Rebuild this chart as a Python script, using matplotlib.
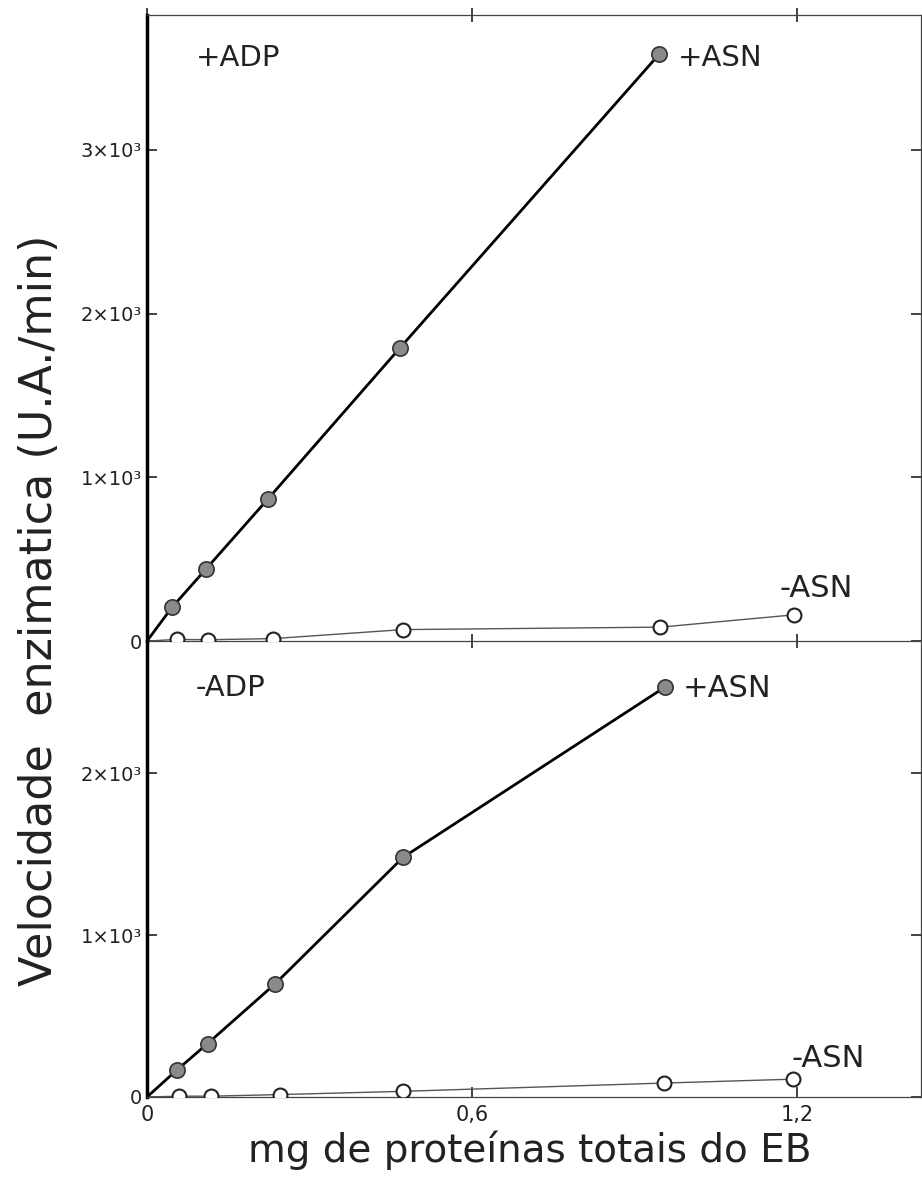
import matplotlib.pyplot as plt

# dados (mg de proteinas totais, velocidade em U.A./min)
mg_mais_adp_mais = [0.0, 0.046, 0.109, 0.224, 0.467, 0.946]
v_mais_adp_mais = [0, 205, 440, 870, 1790, 3585]
mg_mais_adp_menos = [0.0, 0.055, 0.113, 0.233, 0.473, 0.948, 1.194]
v_mais_adp_menos = [0, 10, 8, 15, 70, 85, 160]

mg_menos_adp_mais = [0.0, 0.055, 0.112, 0.237, 0.473, 0.956]
v_menos_adp_mais = [0, 166, 330, 700, 1480, 2530]
mg_menos_adp_menos = [0.0, 0.060, 0.118, 0.246, 0.473, 0.954, 1.192]
v_menos_adp_menos = [0, 5, 5, 15, 35, 86, 110]

yticks_top = [0, 1000, 2000, 3000]
yticklabels_top = ['0', '1×10³', '2×10³', '3×10³']
yticks_bot = [0, 1000, 2000]
yticklabels_bot = ['0', '1×10³', '2×10³']
xticks = [0, 0.6, 1.2]
xticklabels = ['0', '0,6', '1,2']

cor = '#222222'

fig = plt.figure(figsize=(9.22, 11.92), dpi=100)
ax1 = fig.add_axes([0.1594, 0.4622, 0.8395, 0.5252])
ax2 = fig.add_axes([0.1594, 0.0797, 0.8395, 0.3825])
ax2.patch.set_visible(False)


def desenha(ax, mg_a, v_a, mg_b, v_b):
    ax.plot(mg_a, v_a, '-', color='black', lw=2.0, zorder=2)
    ax.plot(mg_a[1:], v_a[1:], 'o', ms=11, mfc='#8a8a8a', mec='#333333',
            mew=1.2, zorder=3)
    ax.plot(mg_b, v_b, '-', color='#555555', lw=1.0, zorder=2)
    ax.plot(mg_b[1:], v_b[1:], 'o', ms=10, mfc='white', mec='#222222',
            mew=1.5, zorder=3)
    ax.set_xlim(0, 1.429)
    ax.set_xticks(xticks)
    ax.tick_params(direction='in', length=7, width=1.2, colors=cor,
                   labelsize=14, right=True, top=True)
    for s in ['top', 'right', 'bottom']:
        ax.spines[s].set_linewidth(0.9)
        ax.spines[s].set_color('#444444')
    ax.spines['left'].set_linewidth(2.5)
    ax.spines['left'].set_color('black')


desenha(ax1, mg_mais_adp_mais, v_mais_adp_mais, mg_mais_adp_menos, v_mais_adp_menos)
ax1.set_ylim(0, 3823)
ax1.set_yticks(yticks_top)
ax1.set_yticklabels(yticklabels_top)
ax1.set_xticklabels([])
ax1.tick_params(axis='x', bottom=True, direction='inout', length=10)

desenha(ax2, mg_menos_adp_mais, v_menos_adp_mais, mg_menos_adp_menos, v_menos_adp_menos)
ax2.set_ylim(0, 2815)
ax2.set_yticks(yticks_bot)
ax2.set_yticklabels(yticklabels_bot)
ax2.set_xticklabels(xticklabels, fontsize=15)
ax2.spines['top'].set_visible(False)
ax2.tick_params(axis='x', top=False, pad=6)

# rotulos das curvas
ax1.text(0.09, 3560, '+ADP', fontsize=21, color=cor, va='center')
ax1.text(0.98, 3560, '+ASN', fontsize=21, color=cor, va='center')
ax1.text(1.168, 320, '-ASN', fontsize=22, color=cor, va='center')
ax2.text(0.09, 2525, '-ADP', fontsize=21, color=cor, va='center')
ax2.text(0.99, 2525, '+ASN', fontsize=22, color=cor, va='center')
ax2.text(1.19, 240, '-ASN', fontsize=22, color=cor, va='center')

fig.text(0.043, 0.488, 'Velocidade  enzimatica (U.A./min)', rotation=90,
         fontsize=32, color=cor, ha='center', va='center')
fig.text(0.575, 0.035, 'mg de proteínas totais do EB', fontsize=28,
         color=cor, ha='center', va='center')

plt.savefig('out.png', dpi=100)
